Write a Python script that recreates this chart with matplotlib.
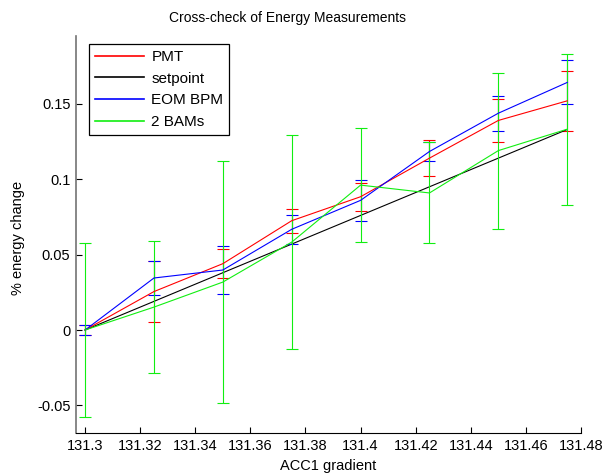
import matplotlib
matplotlib.use('Agg')
import matplotlib.pyplot as plt
from matplotlib.lines import Line2D

plt.rcParams['font.family'] = ['Liberation Sans', 'DejaVu Sans']
plt.rcParams['font.size'] = 10

# ACC1 gradient settings
gradient = [131.3, 131.325, 131.35, 131.375, 131.4, 131.425, 131.45, 131.475]

# % energy change from each diagnostic, with error bars
pmt = [0.0, 0.0255, 0.044, 0.0725, 0.0884, 0.114, 0.139, 0.152]
pmt_err = [0.003, 0.020, 0.0095, 0.008, 0.0093, 0.012, 0.014, 0.020]

setpoint = [0.0, 0.019, 0.038, 0.057, 0.076, 0.095, 0.114, 0.133]

eom_bpm = [0.0, 0.0345, 0.0398, 0.0668, 0.086, 0.1184, 0.1438, 0.1642]
eom_err = [0.003, 0.0115, 0.016, 0.0095, 0.0137, 0.006, 0.0115, 0.0146]

bams = [0.0, 0.0152, 0.0318, 0.0583, 0.0961, 0.0909, 0.119, 0.1332]
bams_err = [0.058, 0.044, 0.080, 0.071, 0.038, 0.0335, 0.0517, 0.050]

xticks = [131.3, 131.32, 131.34, 131.36, 131.38, 131.4, 131.42, 131.44, 131.46, 131.48]
xticklabels = ['131.3', '131.32', '131.34', '131.36', '131.38', '131.4', '131.42', '131.44', '131.46', '131.48']
yticks = [-0.05, 0, 0.05, 0.1, 0.15]
yticklabels = ['-0.05', '0', '0.05', '0.1', '0.15']

red, black, blue, green = '#ff0000', '#000000', '#0000ff', '#11ee11'

fig = plt.figure(figsize=(6.11, 4.74), dpi=100)
W, H = 611, 474
ax = fig.add_axes([76 / W, (H - 433) / H, (581 - 76) / W, (433 - 36) / H])

lw = 0.8
ax.errorbar(gradient, pmt, yerr=pmt_err, color=red, lw=lw, elinewidth=lw,
            capsize=4, capthick=lw)
ax.plot(gradient, setpoint, color=black, lw=lw)
ax.errorbar(gradient, eom_bpm, yerr=eom_err, color=blue, lw=lw, elinewidth=lw,
            capsize=4, capthick=lw)
ax.errorbar(gradient, bams, yerr=bams_err, color=green, lw=lw, elinewidth=lw,
            capsize=4, capthick=lw)

ax.set_xlim(131.2967, 131.48)
ax.set_ylim(-0.0683, 0.195)
ax.set_xticks(xticks)
ax.set_xticklabels(xticklabels)
ax.set_yticks(yticks)
ax.set_yticklabels(yticklabels)
ax.tick_params(direction='in', length=4, width=0.8, pad=4, labelsize=10.5)

ax.spines['top'].set_visible(False)
ax.spines['right'].set_visible(False)
ax.spines['left'].set_color('0.45')
ax.spines['left'].set_linewidth(1.2)
ax.spines['bottom'].set_linewidth(0.8)

# legend shows plain line samples, in plotting order
handles = [Line2D([], [], color=c, lw=1.2) for c in (red, black, blue, green)]
names = ['PMT', 'setpoint', 'EOM BPM', '2 BAMs']
leg = ax.legend(handles, names, loc='upper left', bbox_to_anchor=(0.025, 0.98),
                borderaxespad=0, fancybox=False, edgecolor='black', framealpha=1,
                handlelength=3.2, handletextpad=0.5, labelspacing=0.5, fontsize=11)
leg.get_frame().set_linewidth(0.9)

fig.text(287.5 / W, 1 - 18 / H, 'Cross-check of Energy Measurements', ha='center', va='center', fontsize=10)
fig.text(328.5 / W, 1 - 466 / H, 'ACC1 gradient', ha='center', va='center', fontsize=10.5)
fig.text(18 / W, 1 - 238 / H, '% energy change', ha='center', va='center', rotation=90, fontsize=10.5)

fig.savefig('out.png', dpi=100)
